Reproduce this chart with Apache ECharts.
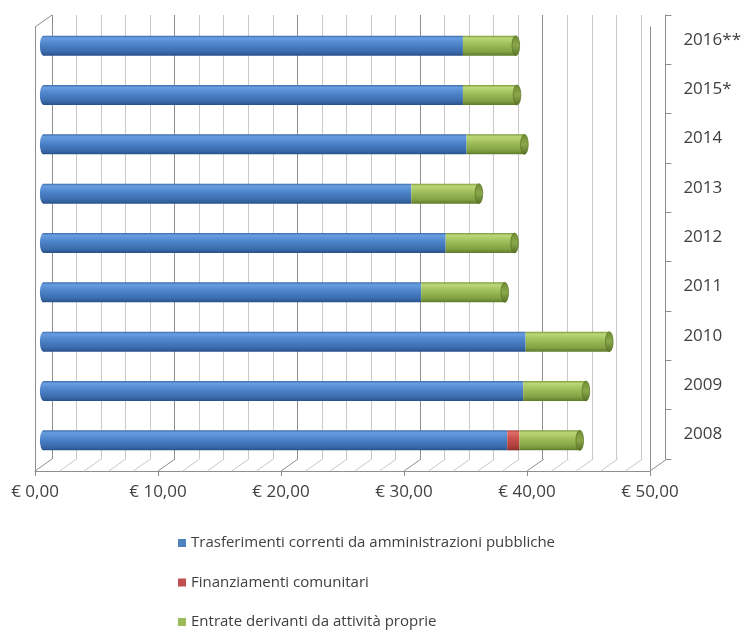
<!DOCTYPE html>
<html>
<head>
<meta charset="utf-8">
<script src="https://cdn.jsdelivr.net/npm/echarts@6/dist/echarts.min.js"></script>
<style>
html,body{margin:0;padding:0;background:#fff;}
#chart{width:744px;height:636px;}
</style>
</head>
<body>
<div id="chart"></div>
<script>
// ---- data ----
const categories = ['2008', '2009', '2010', '2011', '2012', '2013', '2014', '2015*', '2016**'];
const seriesNames = ['Trasferimenti correnti da amministrazioni pubbliche', 'Finanziamenti comunitari', 'Entrate derivanti da attività proprie'];
const trasferimenti = [37.7, 39.0, 39.2, 30.7, 32.7, 29.9, 34.4, 34.1, 34.1];
const finanziamenti = [1.0, 0, 0, 0, 0, 0, 0, 0, 0];
const entrate = [4.9, 5.1, 6.8, 6.8, 5.6, 5.5, 4.7, 4.4, 4.3];
const axisMin = 0, axisMax = 50, axisStep = 10, minorSplit = 5;

// ---- styling ----
const FONT = 'Open Sans';
const DEPTH_X = 17, DEPTH_Y = -12;
const majorCol = '#8e8e8e', minorCol = '#c8c8c8', axisCol = '#8e8e8e';
function grad(stops) {
  return new echarts.graphic.LinearGradient(0, 0, 0, 1, stops.map((c) => ({offset: c[0], color: c[1]})));
}
const blueGrad = () => grad([[0, '#3d6dab'], [0.12, '#6a9de0'], [0.4, '#4f86cc'], [0.8, '#3b6cad'], [1, '#29518a']]);
const redGrad = () => grad([[0, '#a8403d'], [0.12, '#e06d69'], [0.4, '#c9504c'], [0.8, '#ad3f3c'], [1, '#862d2b']]);
const greenGrad = () => grad([[0, '#7d9a3e'], [0.12, '#bcd779'], [0.4, '#9fc05c'], [0.8, '#82a143'], [1, '#5f7a2b']]);
const capGrad = () => grad([[0, '#6f8b33'], [0.5, '#8aa84b'], [1, '#566f25']]);

const totals = categories.map((c, i) => trasferimenti[i] + finanziamenti[i] + entrate[i]);
const floorTicks = [];
for (let v = axisMin; v <= axisMax + 1e-9; v += axisStep / minorSplit) floorTicks.push([v, 0]);

const chart = echarts.init(document.getElementById('chart'));
const fmt = v => '€ ' + v.toFixed(2).replace('.', ',');
const hiddenCat = (grid, pos) => ({gridIndex: grid, type: 'category', data: categories, position: pos,
  axisLine: {show: true, onZero: false, lineStyle: {color: axisCol}}, axisTick: {show: false}, axisLabel: {show: false}});

chart.setOption({
  animation: false,
  backgroundColor: '#fff',
  grid: [
    {left: 35, right: 94, top: 27, bottom: 165},      // front plane
    {left: 52, right: 77, top: 15, bottom: 177},      // back wall
    {left: 43.5, right: 85.5, top: 21, bottom: 171}   // bars (mid depth)
  ],
  xAxis: [
    {gridIndex: 0, type: 'value', min: axisMin, max: axisMax, interval: axisStep,
      axisLine: {show: true, onZero: false, lineStyle: {color: axisCol}},
      axisTick: {show: true, length: 5, lineStyle: {color: axisCol}},
      axisLabel: {formatter: fmt, fontFamily: FONT, fontSize: 17, color: '#404040', margin: 13},
      splitLine: {show: false}},
    {gridIndex: 1, type: 'value', min: axisMin, max: axisMax, interval: axisStep,
      axisLine: {show: false}, axisTick: {show: false}, axisLabel: {show: false},
      splitLine: {show: true, lineStyle: {color: majorCol}},
      minorTick: {show: false, splitNumber: minorSplit},
      minorSplitLine: {show: true, lineStyle: {color: minorCol}}},
    {gridIndex: 2, type: 'value', min: axisMin, max: axisMax, show: false}
  ],
  yAxis: [
    hiddenCat(0, 'left'),
    hiddenCat(0, 'right'),
    {gridIndex: 1, type: 'category', data: categories, position: 'right',
      axisLine: {show: true, onZero: false, lineStyle: {color: axisCol}},
      axisTick: {show: true, length: 6, lineStyle: {color: axisCol}},
      axisLabel: {fontFamily: FONT, fontSize: 17, color: '#404040', margin: 18}},
    {gridIndex: 2, type: 'category', data: categories, show: false}
  ],
  legend: {
    orient: 'vertical', left: 178, top: 534, padding: 0, itemWidth: 8, itemHeight: 8, itemGap: 21.5,
    icon: 'rect',
    textStyle: {fontFamily: FONT, fontSize: 15, color: '#404040', lineHeight: 18},
    data: [
      {name: seriesNames[0], itemStyle: {color: '#4f81bd'}},
      {name: seriesNames[1], itemStyle: {color: '#c0504d'}},
      {name: seriesNames[2], itemStyle: {color: '#9bbb59'}}
    ]
  },
  series: [
    // floor lines
    {type: 'custom', xAxisIndex: 0, yAxisIndex: 0, z: 1, silent: true, data: floorTicks,
      renderItem: (params, api) => {
        const v = api.value(0);
        const cs = params.coordSys;
        const x = api.coord([v, 0])[0];
        const y = cs.y + cs.height;
        const major = Math.abs(v / axisStep - Math.round(v / axisStep)) < 1e-6;
        return {type: 'line', shape: {x1: x, y1: y, x2: x + DEPTH_X, y2: y + DEPTH_Y},
          style: {stroke: major ? majorCol : minorCol, lineWidth: 1}};
      }},
    // top-left edge of side wall
    {type: 'custom', xAxisIndex: 0, yAxisIndex: 0, z: 1, silent: true, data: [[axisMin, 0]],
      renderItem: (params, api) => {
        const cs = params.coordSys;
        const x = api.coord([api.value(0), 0])[0];
        return {type: 'line', shape: {x1: x, y1: cs.y, x2: x + DEPTH_X, y2: cs.y + DEPTH_Y},
          style: {stroke: axisCol, lineWidth: 1}};
      }},
    // left rounded ends of cylinders
    {type: 'custom', xAxisIndex: 2, yAxisIndex: 3, z: 2, silent: true,
      data: categories.map((c, i) => [axisMin, i]),
      renderItem: (params, api) => {
        const p = api.coord([api.value(0), api.value(1)]);
        return {type: 'circle', x: p[0], y: p[1], scaleX: 0.36, shape: {cx: 0, cy: 0, r: 10},
          style: {fill: blueGrad()}};
      }},
    {name: seriesNames[0], type: 'bar', stack: 'tot', xAxisIndex: 2, yAxisIndex: 3, z: 3, barWidth: 20,
      itemStyle: {color: blueGrad()}, data: trasferimenti},
    {name: seriesNames[1], type: 'bar', stack: 'tot', xAxisIndex: 2, yAxisIndex: 3, z: 3, barWidth: 20,
      itemStyle: {color: redGrad()}, data: finanziamenti},
    {name: seriesNames[2], type: 'bar', stack: 'tot', xAxisIndex: 2, yAxisIndex: 3, z: 3, barWidth: 20,
      itemStyle: {color: greenGrad()}, data: entrate},
    // right end faces of cylinders
    {type: 'custom', xAxisIndex: 2, yAxisIndex: 3, z: 4, silent: true,
      data: totals.map((t, i) => [t, i]),
      renderItem: (params, api) => {
        const p = api.coord([api.value(0), api.value(1)]);
        return {type: 'circle', x: p[0], y: p[1], scaleX: 0.38, shape: {cx: 0, cy: 0, r: 10},
          style: {fill: capGrad(), stroke: '#55701f', lineWidth: 1}};
      }}
  ]
});
</script>
</body>
</html>
